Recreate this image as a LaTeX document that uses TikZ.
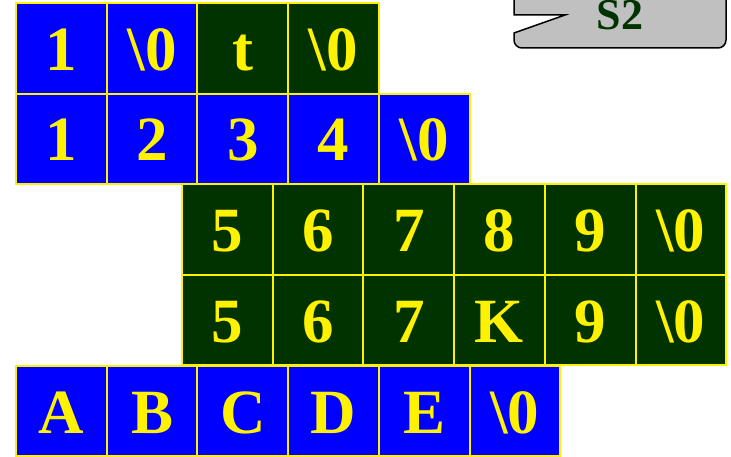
\documentclass[tikz,border=0pt]{standalone}
\usepackage{fontspec}
\setmainfont{Liberation Serif}

\definecolor{cellblue}{HTML}{0000FF}
\definecolor{cellgreen}{HTML}{003300}
\definecolor{calloutgray}{HTML}{C0C0C0}

\tikzset{
  cell/.style={draw=yellow, line width=2pt, minimum width=90.7pt, minimum height=90.7pt,
    inner sep=0pt, text=yellow, font=\fontsize{63}{63}\selectfont\bfseries,
    text height=44pt, text depth=0pt},
  bluecell/.style={cell, fill=cellblue},
  greencell/.style={cell, fill=cellgreen},
  calloutbox/.style={fill=calloutgray, draw=black, line width=1.5pt}
}

\begin{document}
\begin{tikzpicture}[x=1pt, y=1pt]
  \useasboundingbox (0,0) rectangle (731,456);
  \clip (0,0) rectangle (731,456);

  % S2 callout
  \draw[calloutbox] (514,470) -- (514,441) -- (565,441) -- (514,423)
    [rounded corners=8pt] -- (514,408) -- (726,408) [sharp corners] -- (726,470) -- cycle;
  \node[anchor=base, text=cellgreen, font=\fontsize{44}{44}\selectfont\bfseries] (s2) at (620,426) {S2};

  % row 1
  \foreach \t/\s [count=\i] in {1/bluecell, \textbackslash 0/bluecell, t/greencell, \textbackslash 0/greencell}
    \node[\s] (r1c\i) at ({61.35+90.7*(\i-1)}, 407.5) {\t};
  % row 2
  \foreach \t [count=\i] in {1, 2, 3, 4, \textbackslash 0}
    \node[bluecell] (r2c\i) at ({61.35+90.7*(\i-1)}, 317) {\t};
  % rows 3 and 4
  \foreach \t [count=\i] in {5, 6, 7, 8, 9, \textbackslash 0}
    \node[greencell] (r3c\i) at ({227.35+90.7*(\i-1)}, 226.5) {\t};
  \foreach \t [count=\i] in {5, 6, 7, K, 9, \textbackslash 0}
    \node[greencell] (r4c\i) at ({227.35+90.7*(\i-1)}, 136) {\t};
  % row 5
  \foreach \t [count=\i] in {A, B, C, D, E, \textbackslash 0}
    \node[bluecell] (r5c\i) at ({61.35+90.7*(\i-1)}, 45) {\t};
\end{tikzpicture}
\end{document}
